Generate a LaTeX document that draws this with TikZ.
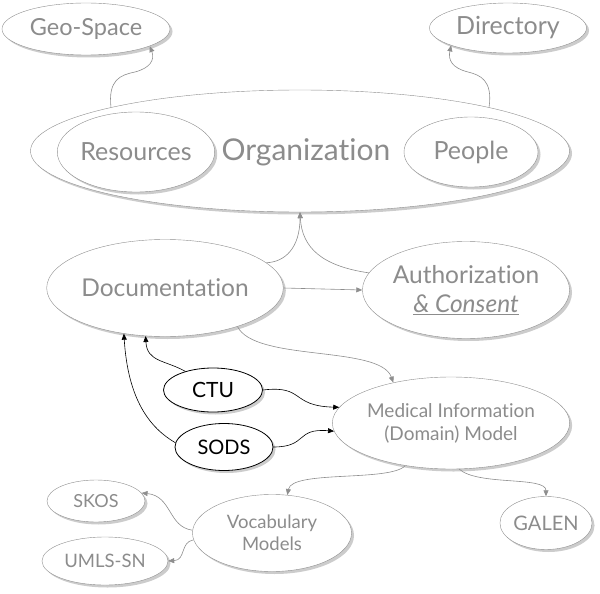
\documentclass[tikz,border=0pt]{standalone}
\usepackage{fontspec}
\setmainfont{Lato}[Ligatures=NoCommon]
\usepackage{tikz}
\usetikzlibrary{arrows.meta,shapes.geometric,shadows}
\definecolor{soft}{HTML}{8C8C8C}
\definecolor{rim}{HTML}{8E8E8E}
\newcommand{\fs}[1]{\fontsize{#1}{1.2\dimexpr#1pt\relax}\selectfont}

\begin{document}
\begin{tikzpicture}[x=1pt, y=-1pt,
    bub/.style={ellipse, draw=rim, fill=white, text=soft, inner sep=0pt, align=center,
      drop shadow={shadow xshift=2.5pt, shadow yshift=-2.5pt, fill=black, opacity=0.2}},
    dark/.style={bub, draw=black, text=black, thick},
    flow/.style={-{Triangle[length=6pt, width=5pt]}, rim, semithick},
    dflow/.style={-{Triangle[length=6pt, width=5pt]}, black, semithick}]
  \useasboundingbox (0,0) rectangle (600,594);
  \node[bub, minimum width=168pt, minimum height=52pt, font=\fs{23.5}] (geo) at (86,29) {Geo-Space};
  \node[bub, minimum width=157pt, minimum height=50pt, font=\fs{25}] (dir) at (508,28) {Directory};
  \node[bub, minimum width=539pt, minimum height=122pt] (org) at (300,151) {};
  \node[text=soft, font=\fs{30}] (orgtxt) at (306,152) {Organization};
  \node[bub, minimum width=154pt, minimum height=80pt, font=\fs{25}] (res) at (136,152) {Resources};
  \node[bub, minimum width=134pt, minimum height=70pt, font=\fs{25}] (ppl) at (471,152) {People};
  \node[bub, minimum width=195pt, minimum height=97pt, font=\fs{24.5}] (doc) at (165,288) {Documentation};
  \node[bub, minimum width=195pt, minimum height=97pt, font=\fs{24.5}] (auth) at (466,290) {Authorization\\\underline{\itshape\&~Consent}};
  \node[bub, minimum width=233pt, minimum height=92pt, font=\fs{19}] (med) at (451,423) {Medical Information\\(Domain) Model};
  \node[dark, minimum width=99pt, minimum height=44pt, font=\fs{21}] (ctu) at (213,390) {CTU};
  \node[dark, minimum width=98pt, minimum height=47pt, font=\fs{20}] (sods) at (224,447) {SODS};
  \node[bub, minimum width=159pt, minimum height=77pt, font=\fs{18.5}] (voc) at (272,533) {Vocabulary\\Models};
  \node[bub, minimum width=92pt, minimum height=53pt, font=\fs{20}] (galen) at (546,523) {GALEN};
  \node[bub, minimum width=98pt, minimum height=42pt, font=\fs{18}] (skos) at (96,501) {SKOS};
  \node[bub, minimum width=126pt, minimum height=48pt, font=\fs{18.5}] (umls) at (105,561) {UMLS-SN};
  % upper part
  \draw[flow] (org.167) .. controls (108,80) and (120,75) .. (135,72) .. controls (150,68) and (155,60) .. (geo.-15);
  \draw[flow] (org.13) .. controls (493,80) and (480,75) .. (468,72) .. controls (452,68) and (448,60) .. (dir.197);
  \draw[flow] (doc.14) .. controls (285,262) and (300,248) .. (org.south);
  \draw[flow] (auth.170) .. controls (322,266) and (302,248) .. (org.south);
  \draw[flow] (doc.east) -- (auth.west);
  \draw[flow] (doc.-28) .. controls (255,362) and (380,345) .. (med.145);
  % CTU and SODS
  \draw[dflow] (ctu.146) .. controls (165,360) and (147,362) .. (doc.-112);
  \draw[dflow] (sods.175) .. controls (150,428) and (128,400) .. (doc.228);
  \draw[dflow] (ctu.east) .. controls (305,385) and (290,406) .. (med.172);
  \draw[dflow] (sods.east) .. controls (308,447) and (295,428) .. (med.184);
  % lower part
  \draw[flow] (med.-137) .. controls (390,482) and (292,470) .. (voc.68);
  \draw[flow] (med.-80) .. controls (478,486) and (546,476) .. (galen.north);
  \draw[flow] (voc.178) .. controls (168,527) and (172,496) .. (skos.10);
  \draw[flow] (voc.185) .. controls (180,542) and (186,560) .. (umls.east);
\end{tikzpicture}
\end{document}
